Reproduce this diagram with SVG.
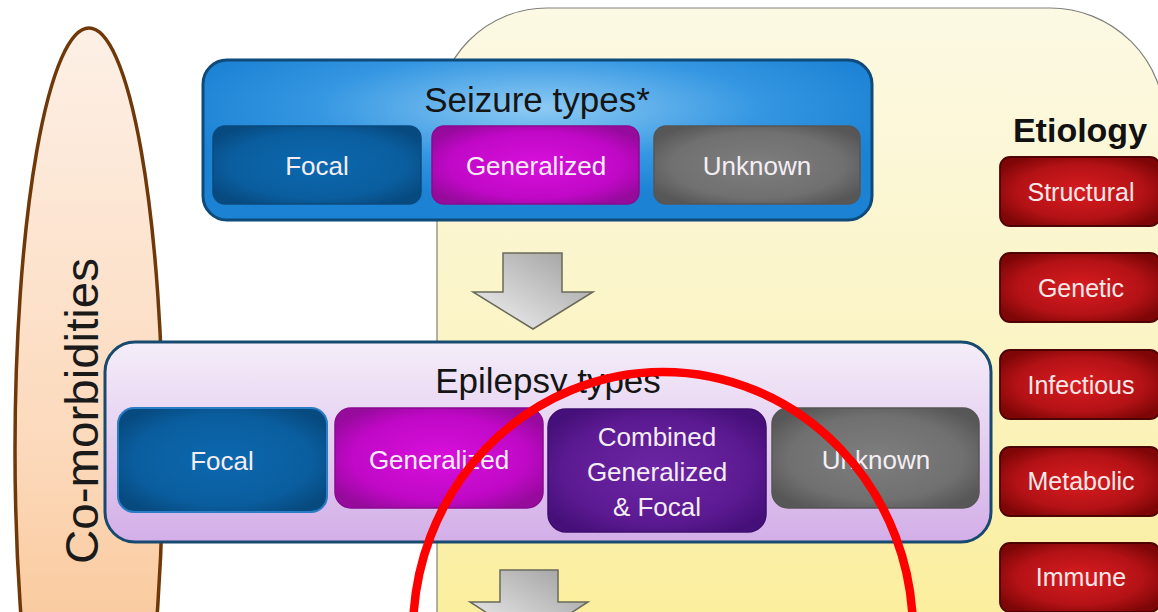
<svg xmlns="http://www.w3.org/2000/svg" width="1158" height="612" viewBox="0 0 1158 612">
<defs>
<linearGradient id="gPanel" x1="0" y1="0" x2="0" y2="1"><stop offset="0" stop-color="#fcf9e4"/><stop offset="0.5" stop-color="#fbf4c4"/><stop offset="1" stop-color="#fbec90"/></linearGradient>
<linearGradient id="gEll" x1="0" y1="0" x2="0" y2="1"><stop offset="0" stop-color="#fdf0e6"/><stop offset="0.5" stop-color="#fcd9bb"/><stop offset="1" stop-color="#f7b574"/></linearGradient>
<radialGradient id="gSeiz" cx="0.5" cy="0.3" r="0.55"><stop offset="0" stop-color="#8ecbf4"/><stop offset="0.6" stop-color="#3597e2"/><stop offset="1" stop-color="#1c82d4"/></radialGradient>
<linearGradient id="gEpi" x1="0" y1="0" x2="0" y2="1"><stop offset="0" stop-color="#f5eef9"/><stop offset="1" stop-color="#d3aee8"/></linearGradient>
<radialGradient id="gBlue" cx="0.5" cy="0.5" r="0.6"><stop offset="0" stop-color="#0c68ae"/><stop offset="0.7" stop-color="#0a5e9f"/><stop offset="1" stop-color="#074a80"/></radialGradient>
<radialGradient id="gMag" cx="0.5" cy="0.5" r="0.6"><stop offset="0" stop-color="#d810dc"/><stop offset="0.7" stop-color="#c008c6"/><stop offset="1" stop-color="#960a9c"/></radialGradient>
<radialGradient id="gGray" cx="0.5" cy="0.5" r="0.6"><stop offset="0" stop-color="#7e7e7e"/><stop offset="0.7" stop-color="#707070"/><stop offset="1" stop-color="#575757"/></radialGradient>
<radialGradient id="gPur" cx="0.5" cy="0.5" r="0.6"><stop offset="0" stop-color="#6c26a4"/><stop offset="0.7" stop-color="#5c1a92"/><stop offset="1" stop-color="#46107a"/></radialGradient>
<radialGradient id="gRed" cx="0.5" cy="0.5" r="0.6"><stop offset="0" stop-color="#d81c20"/><stop offset="0.65" stop-color="#b41216"/><stop offset="1" stop-color="#7e0606"/></radialGradient>
<linearGradient id="gArrow" x1="1" y1="0" x2="0" y2="1"><stop offset="0" stop-color="#9c9c9c"/><stop offset="1" stop-color="#f4f4f6"/></linearGradient>
<style>
.t{font-family:"Liberation Sans",Arial,sans-serif;text-anchor:middle}
.title{font-size:35px;fill:#151515}
.lbl{font-size:26px;fill:#f4eef4}
.etl{font-size:25px;fill:#f6e8e8}
.arrow{fill:url(#gArrow);stroke:#6a6a5a;stroke-width:1.5}
.ety{fill:url(#gRed);stroke:#4e0404;stroke-width:1.8}
</style>
</defs>
<rect width="1158" height="612" fill="#ffffff"/>

<g id="comorbidities">
<ellipse cx="89" cy="450" rx="74" ry="422" fill="url(#gEll)" stroke="#6e3808" stroke-width="3.5"/>
<text class="t" transform="translate(98,411) rotate(-90)" font-size="46" fill="#1a1a1a" textLength="306" lengthAdjust="spacingAndGlyphs">Co-morbidities</text>
</g>

<g id="etiology-panel">
<path d="M437,700 L437,118 A110,110 0 0 1 547,8 L1050,8 A115,115 0 0 1 1165,123 L1165,700 Z" fill="url(#gPanel)" stroke="#80807a" stroke-width="1.2"/>
</g>

<g id="seizure-types">
<rect x="203" y="60" width="669" height="160" rx="24" fill="url(#gSeiz)" stroke="#0f4a78" stroke-width="3"/>
<text class="t title" x="537" y="112">Seizure types*</text>
<rect x="213" y="126" width="208" height="78" rx="12" fill="url(#gBlue)" stroke="#0a4a7e" stroke-width="1.5"/>
<text class="t lbl" x="317" y="175">Focal</text>
<rect x="432" y="126" width="207" height="78" rx="12" fill="url(#gMag)" stroke="#8a0a90" stroke-width="1.5"/>
<text class="t lbl" x="536" y="175">Generalized</text>
<rect x="654" y="126" width="206" height="78" rx="12" fill="url(#gGray)" stroke="#555" stroke-width="1.5"/>
<text class="t lbl" x="757" y="175">Unknown</text>
</g>

<g id="epilepsy-types">
<rect x="105" y="342" width="886" height="200" rx="30" fill="url(#gEpi)" stroke="#174a6e" stroke-width="3"/>
<text class="t title" x="548" y="393">Epilepsy types</text>
<rect x="118" y="408" width="209" height="104" rx="16" fill="url(#gBlue)" stroke="#2a7cc4" stroke-width="2"/>
<text class="t lbl" x="222" y="470">Focal</text>
<rect x="335" y="408" width="208" height="100" rx="16" fill="url(#gMag)" stroke="#8a0a90" stroke-width="1.5"/>
<text class="t lbl" x="439" y="469">Generalized</text>
<rect x="548" y="409" width="218" height="123" rx="18" fill="url(#gPur)" stroke="#3e0e6e" stroke-width="1.5"/>
<text class="t lbl" x="657" y="446">Combined</text>
<text class="t lbl" x="657" y="481">Generalized</text>
<text class="t lbl" x="657" y="516">&amp; Focal</text>
<rect x="772" y="408" width="207" height="100" rx="16" fill="url(#gGray)" stroke="#555" stroke-width="1.5"/>
<text class="t lbl" x="876" y="469">Unknown</text>
</g>

<g id="etiology">
<text class="t" x="1080" y="142" font-size="34" font-weight="bold" fill="#111">Etiology</text>
<rect class="ety" x="1000" y="157" width="160" height="69" rx="10"/>
<text class="t etl" x="1081" y="201">Structural</text>
<rect class="ety" x="1000" y="253" width="160" height="69" rx="10"/>
<text class="t etl" x="1081" y="297">Genetic</text>
<rect class="ety" x="1000" y="350" width="160" height="69" rx="10"/>
<text class="t etl" x="1081" y="394">Infectious</text>
<rect class="ety" x="1000" y="447" width="160" height="69" rx="10"/>
<text class="t etl" x="1081" y="490">Metabolic</text>
<rect class="ety" x="1000" y="543" width="160" height="69" rx="10"/>
<text class="t etl" x="1081" y="586">Immune</text>
</g>

<g id="connectors">
<path class="arrow" d="M503,253 L562,253 L562,292 L593,292 L533,329 L473,292 L503,292 Z"/>
<path class="arrow" d="M500,570 L558,570 L558,602 L588,602 L529,640 L470,602 L500,602 Z"/>
</g>

<g id="highlight">
<ellipse cx="663" cy="632" rx="250" ry="260" fill="none" stroke="#ff0000" stroke-width="8.5"/>
</g>
</svg>
